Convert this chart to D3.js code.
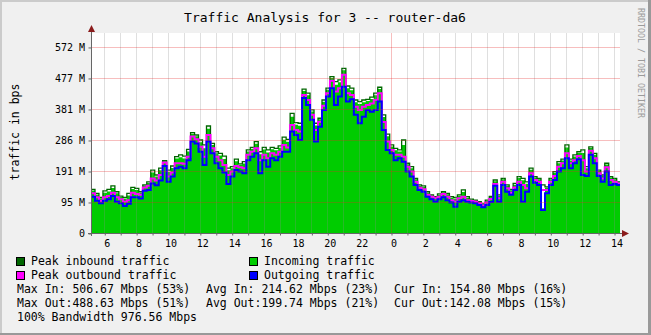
<!DOCTYPE html>
<html>
<head>
<meta charset="utf-8">
<script src="https://cdn.jsdelivr.net/npm/d3@7"></script>
<style>
  body { margin: 0; background: #f0f0f0; }
  text { font-family: "DejaVu Sans Mono", monospace; }
</style>
</head>
<body>
<svg id="chart" width="651" height="335"></svg>
<script>
// samples every 15 minutes starting 05:10, values in Mbit/s (1e6)
const startHour = 5 + 10 / 60;
const stepHours = 0.25;

const peakIn = [141,128,115,136,141,152,133,119,115,128,
  147,144,133,155,165,203,187,209,233,203,
  216,246,252,248,270,324,316,300,284,345,
  289,262,257,248,209,214,238,223,230,268,
  276,295,262,276,268,276,273,281,309,302,
  386,356,354,464,451,397,354,370,429,467,
  504,488,494,531,474,467,429,424,429,431,
  438,451,470,381,319,284,273,268,300,225,
  214,176,155,152,133,123,117,126,133,128,
  117,115,123,139,117,109,106,101,94,106,
  118,171,123,176,155,141,160,182,176,165,
  209,182,176,155,149,176,198,230,238,284,
  238,252,262,268,214,278,257,203,187,225,
  182,176,165];

const avgIn = [137,124,112,130,134,145,128,116,111,121,
  142,139,130,153,161,195,182,202,231,197,
  210,240,244,240,263,320,312,293,273,336,
  284,257,250,239,202,209,231,220,224,263,
  272,288,254,269,260,270,267,275,301,294,
  375,349,346,458,444,392,347,367,423,462,
  500,478,486,525,467,460,422,416,422,426,
  432,444,464,374,312,279,267,263,284,222,
  209,173,152,149,130,121,115,123,131,125,
  114,111,120,132,114,107,104,99,92,104,
  116,167,120,173,152,138,156,177,170,159,
  204,179,173,80,146,173,194,225,234,276,
  234,247,258,258,209,274,252,200,184,221,
  179,173,163];

const peakOut = [128,115,104,115,119,130,115,109,101,106,
  130,126,123,147,152,176,169,187,227,182,
  195,225,225,223,246,311,302,278,246,316,
  273,246,235,219,187,198,216,212,209,252,
  262,273,235,252,241,257,252,262,284,276,
  348,332,327,445,429,381,332,359,410,451,
  491,456,467,510,451,445,407,397,407,413,
  418,429,451,358,295,268,252,252,246,214,
  198,165,146,141,123,117,112,117,126,117,
  106,101,112,117,106,103,101,96,88,98,
  110,158,112,165,144,130,147,165,155,144,
  193,171,165,139,139,165,184,214,225,257,
  225,235,248,235,198,265,241,193,176,212,
  171,165,160];

const avgOut = [117,104,96,104,109,119,101,96,87,94,
  115,115,111,136,139,160,154,169,216,165,
  182,209,214,209,235,295,289,262,219,295,
  257,225,209,195,158,182,203,198,193,235,
  246,257,193,235,214,241,235,246,262,262,
  327,316,300,435,413,365,295,343,397,440,
  467,413,440,472,424,431,381,354,375,397,
  391,397,424,332,268,257,235,241,230,198,
  182,155,139,133,117,109,101,109,115,106,
  98,85,101,106,101,98,96,90,83,90,
  100,152,101,155,133,123,139,155,101,133,
  182,162,155,74,128,155,171,198,209,241,
  209,225,238,187,184,252,225,184,165,198,
  155,158,155];

const yTicks = [0, 100, 200, 300, 400, 500, 600];
const labelHours = [6, 8, 10, 12, 14, 16, 18, 20, 22, 24, 26, 28, 30, 32, 34, 36, 38];
const gridHours = d3.range(6, 39);

const title = "Traffic Analysis for 3 -- router-da6";
const yTitle = "traffic in bps";
const watermark = "RRDTOOL / TOBI OETIKER";
const legendLabels = ["Peak inbound traffic", "Incoming traffic", "Peak outbound traffic", "Outgoing traffic"];
const legendColors = ["#006600", "#00cc00", "#ff00ff", "#0000ff"];
const statsRows = [
  ["Max In: 506.67 Mbps (53%)", "Avg In: 214.62 Mbps (23%)", "Cur In: 154.80 Mbps (16%)"],
  ["Max Out:488.63 Mbps (51%)", "Avg Out:199.74 Mbps (21%)", "Cur Out:142.08 Mbps (15%)"],
  ["100% Bandwidth 976.56 Mbps"]
];

const W = 651, H = 335;
const pLeft = 91, pRight = 620, pTop = 33, pBottom = 233;
const svg = d3.select("#chart");

// background + 3d frame
svg.append("rect").attr("width", W).attr("height", H).attr("fill", "#f0f0f0");
svg.append("rect").attr("x", 0).attr("y", 0).attr("width", W).attr("height", 2).attr("fill", "#cbcbcb");
svg.append("rect").attr("x", 0).attr("y", 0).attr("width", 2).attr("height", H).attr("fill", "#cbcbcb");
svg.append("rect").attr("x", W - 3).attr("y", 0).attr("width", 3).attr("height", H).attr("fill", "#999");
svg.append("rect").attr("x", 0).attr("y", H - 2).attr("width", W).attr("height", 2).attr("fill", "#999");

const x = d3.scaleLinear().domain([startHour, startHour + (pRight - pLeft) / 15.93]).range([pLeft, pRight]);
const y = d3.scaleLinear().domain([0, 645]).range([pBottom, pTop]);

function series(arr) {
  let pts = arr.map((v, i) => [startHour + i * stepHours, v]);
  pts.push([startHour + arr.length * stepHours, arr[arr.length - 1]]);
  return pts;
}

svg.append("clipPath").attr("id", "clip")
  .append("rect").attr("x", pLeft).attr("y", pTop).attr("width", pRight - pLeft).attr("height", pBottom - pTop);

svg.append("rect").attr("x", pLeft).attr("y", pTop).attr("width", pRight - pLeft).attr("height", pBottom - pTop)
  .attr("fill", "#fff");

const plot = svg.append("g").attr("clip-path", "url(#clip)");

const area = d3.area().curve(d3.curveStepAfter)
  .x(d => x(d[0])).y0(y(0)).y1(d => y(d[1]));
const line = d3.line().curve(d3.curveStepAfter)
  .x(d => x(d[0])).y(d => y(d[1]));

plot.append("path").attr("d", area(series(avgIn))).attr("fill", legendColors[1]);
plot.append("path").attr("d", line(series(peakIn))).attr("fill", "none")
  .attr("stroke", legendColors[0]).attr("stroke-width", 1.3);
plot.append("path").attr("d", line(series(peakOut))).attr("fill", "none")
  .attr("stroke", legendColors[2]).attr("stroke-width", 2);
plot.append("path").attr("d", line(series(avgOut))).attr("fill", "none")
  .attr("stroke", legendColors[3]).attr("stroke-width", 2);

// grid on top of the graph, like rrdtool
const grid = svg.append("g").attr("shape-rendering", "crispEdges");
grid.selectAll(".vgrid").data(gridHours).enter().append("line")
  .attr("x1", d => Math.round(x(d)) + 0.5).attr("x2", d => Math.round(x(d)) + 0.5)
  .attr("y1", pTop).attr("y2", pBottom)
  .attr("stroke", d => d % 24 === 0 ? "rgba(230,40,40,0.3)" : "rgba(140,140,140,0.28)");
grid.selectAll(".hgrid").data(yTicks.slice(1)).enter().append("line")
  .attr("x1", pLeft).attr("x2", pRight)
  .attr("y1", d => Math.round(y(d)) + 0.5).attr("y2", d => Math.round(y(d)) + 0.5)
  .attr("stroke", "rgba(230,40,40,0.3)");

const fmt = v => v === 0 ? "0" : Math.round(v * 1e6 / 1048576) + " M";

const yAxis = svg.append("g").attr("transform", `translate(${pLeft + 0.5},0.5)`)
  .call(d3.axisLeft(y).tickValues(yTicks).tickSize(3).tickPadding(3.5).tickFormat(fmt));
yAxis.select(".domain").remove();
yAxis.selectAll("line").attr("stroke", "#666");
yAxis.selectAll("text").attr("font-size", "10px").attr("fill", "#000")
  .style("font-family", '"DejaVu Sans Mono", monospace');

const xTicks = svg.append("g").attr("transform", `translate(0.5,${pBottom + 0.5})`)
  .call(d3.axisBottom(x).tickValues(gridHours).tickSize(2).tickFormat(""));
xTicks.select(".domain").remove();
xTicks.selectAll("line").attr("stroke", "#666");

const xAxis = svg.append("g").attr("transform", `translate(0,${pBottom})`)
  .call(d3.axisBottom(x).tickValues(labelHours).tickSize(0).tickPadding(7).tickFormat(h => h % 24));
xAxis.select(".domain").remove();
xAxis.selectAll("text").attr("font-size", "10px").attr("fill", "#000").attr("dx", 2.5)
  .style("font-family", '"DejaVu Sans Mono", monospace');

// axis lines and arrows
svg.append("line").attr("x1", pLeft - 3).attr("x2", pRight + 3).attr("y1", pBottom + 0.5).attr("y2", pBottom + 0.5)
  .attr("stroke", "#666");
svg.append("line").attr("x1", pLeft + 0.5).attr("x2", pLeft + 0.5).attr("y1", pBottom + 3).attr("y2", pTop - 3)
  .attr("stroke", "#666");
svg.append("path").attr("d", `M${pRight + 9},${pBottom + 0.5} L${pRight + 2},${pBottom - 3} L${pRight + 2},${pBottom + 4} Z`)
  .attr("fill", "#8b1c1c");
svg.append("path").attr("d", `M${pLeft + 0.5},${pTop - 8} L${pLeft - 3},${pTop - 1} L${pLeft + 4},${pTop - 1} Z`)
  .attr("fill", "#8b1c1c");

// titles
svg.append("text").attr("x", 325).attr("y", 22).attr("text-anchor", "middle")
  .attr("font-size", "13px").attr("fill", "#000").text(title);
svg.append("text").attr("transform", "translate(19,132) rotate(-90)").attr("text-anchor", "middle")
  .attr("font-size", "11.5px").attr("fill", "#000").text(yTitle);
svg.append("text").attr("transform", "translate(637.5,8) rotate(90)")
  .attr("font-size", "8.3px").attr("fill", "#9a9a9a").text(watermark);

// legend
const legend = svg.append("g");
legendLabels.forEach((label, i) => {
  const col = i % 2, row = Math.floor(i / 2);
  const lx = col === 0 ? 17 : 250;
  const ly = 265 + row * 14;
  legend.append("rect").attr("x", lx - 0.5).attr("y", ly - 7.5).attr("width", 8).attr("height", 8)
    .attr("fill", legendColors[i]).attr("stroke", "#000").attr("stroke-width", 1);
  legend.append("text").attr("x", lx + 14).attr("y", ly)
    .attr("font-size", "11.5px").attr("fill", "#000").text(label);
});
const statCols = [17, 206, 394];
statsRows.forEach((row, r) => {
  row.forEach((s, c) => {
    legend.append("text").attr("x", statCols[c]).attr("y", 293 + r * 14)
      .attr("font-size", "11.5px").attr("fill", "#000").text(s);
  });
});
</script>
</body>
</html>
